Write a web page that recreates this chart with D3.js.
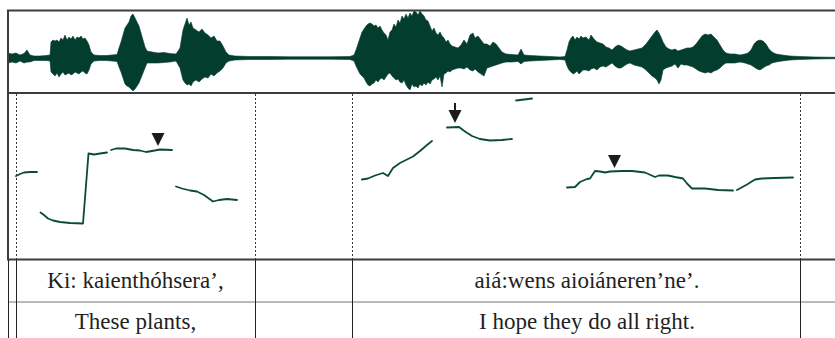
<!DOCTYPE html>
<html><head><meta charset="utf-8">
<script src="https://cdn.jsdelivr.net/npm/d3@7"></script>
<style>body{margin:0;background:#fff}svg{display:block}</style>
</head><body><svg id="c" width="835" height="338"></svg>
<script>
// ---- waveform envelope (time in ms, amplitude in % of full scale) ----
const waveTime = [0,16,32,48,64,76,88,104,128,152,168,
172,180,188,196,204,212,220,228,236,244,252,260,268,276,284,292,300,308,316,324,332,
344,368,392,416,436,
444,452,460,468,476,484,492,500,508,516,524,532,540,548,556,
576,600,624,648,672,
688,700,708,716,724,732,740,752,764,776,788,800,812,824,836,848,860,872,884,
908,968,1048,1128,1208,1288,1368,1384,
1392,1400,1408,1416,1424,1432,1440,1448,1456,1464,1472,1480,1488,1496,1504,1512,1520,1528,1536,1544,1552,1560,1568,1576,1584,1592,1600,1608,1616,1624,1632,1640,1648,1656,1664,1672,1680,1688,1696,1704,1712,1720,1728,1736,1744,1752,1760,1768,1776,1788,1800,
1812,1824,1836,1848,1860,1868,1880,1892,1904,1916,1928,1940,1952,1964,1976,1992,2016,2040,2052,2064,2088,2128,2168,2208,2228,
2236,2244,2252,2260,2268,2276,2284,2292,2300,2312,2324,2332,2344,2356,2368,2380,2392,2404,2416,2428,2440,2452,2464,2476,2488,2504,2520,2536,2552,2564,2576,2588,2596,2604,2612,2620,2632,2644,2656,2668,2680,2692,2704,2716,2728,2740,2752,2764,2776,2788,2800,2812,2824,2836,2848,2860,2872,2888,2908,2928,2948,2960,2972,2984,2996,3008,3020,3032,3044,3056,3072,3096,3128,3168,3228,3308];
const waveTop = [10,8,10,6,9,16,6,4,4,5,6,
32,36,34,36,32,40,36,46,36,42,38,44,36,42,40,44,38,40,34,26,12,
6,5,5,6,7,
20,32,46,60,66,72,84,88,80,72,64,50,36,22,14,
12,10,11,9,8,
20,56,68,80,66,72,60,56,52,58,50,46,40,44,34,34,24,12,6,
4,3,3,2.4,2.4,2.4,3,6,
16,28,40,52,58,64,68,70,68,64,66,60,64,56,50,46,36,52,56,68,62,76,70,84,78,88,80,90,84,94,92,86,94,88,84,76,74,64,54,60,50,46,52,44,40,32,36,28,24,22,20,
26,36,28,46,50,40,44,36,28,28,24,32,28,20,12,8,7,6,18,6,5,4,3,2,3,
16,32,40,44,36,42,38,44,40,42,36,46,38,32,30,28,22,20,16,22,26,24,20,16,14,16,18,20,28,36,44,52,56,50,42,32,22,18,16,18,14,16,18,20,20,22,28,36,44,48,46,48,42,36,26,16,10,8,8,6,8,10,16,28,34,36,34,28,18,12,8,6,4,3,2,1.4];
const waveBot = [-10,-8,-10,-6,-10,-8,-8,-5,-5,-5,-6,
-28,-32,-36,-30,-38,-32,-28,-34,-32,-30,-34,-32,-28,-30,-32,-28,-26,-30,-32,-24,-12,
-6,-5,-5,-6,-7,
-18,-28,-40,-52,-56,-58,-62,-66,-62,-56,-50,-40,-30,-20,-10,
-10,-10,-9,-8,-6,
-20,-44,-50,-54,-52,-56,-48,-44,-48,-42,-38,-40,-32,-36,-30,-26,-20,-10,-6,
-4,-3,-3,-2.4,-2.4,-2.4,-3,-6,
-16,-24,-32,-36,-40,-48,-54,-56,-52,-50,-44,-48,-42,-40,-44,-38,-32,-30,-36,-40,-44,-42,-48,-50,-44,-54,-60,-64,-52,-58,-56,-60,-52,-56,-50,-54,-48,-52,-44,-42,-38,-44,-36,-58,-32,-30,-26,-28,-24,-22,-20,
-20,-22,-18,-24,-26,-22,-28,-32,-36,-20,-18,-16,-14,-12,-10,-8,-8,-7,-12,-7,-6,-5,-4,-3,-4,
-16,-24,-28,-32,-30,-26,-32,-28,-24,-24,-26,-22,-20,-24,-18,-16,-18,-14,-10,-16,-20,-20,-16,-12,-10,-14,-16,-18,-24,-30,-36,-40,-44,-52,-44,-24,-20,-18,-16,-12,-20,-12,-14,-14,-16,-18,-22,-26,-28,-30,-28,-30,-26,-24,-20,-14,-10,-10,-10,-8,-10,-12,-14,-18,-22,-24,-20,-16,-14,-10,-8,-6,-4,-3,-2,-1.4];

// ---- pitch track segments (time ms, F0 Hz) ----
const pitchTimes = [
  [32,48,64,88,116],
  [130,144,160,180,208,248,300,322,344,368,396],
  [412,432,468,500,528,552,576,608,656],
  [672,696,728,756,784,820,844,876,916],
  [1416,1440,1468,1500,1520,1540,1568,1596,1620,1648,1676,1696],
  [1756,1804,1828,1856,1888,1928,1976,2016],
  [2032,2064,2096],
  [2236,2268,2288,2316,2328,2348,2368,2388,2408,2456,2496,2548,2588,2604,2640,2668,2700,2716,2736,2788,2840,2900],
  [2916,2956,2988,3016,3068,3140]
];
const pitchHz = [
  [236,240,243,244,244],
  [163,158,151,147,144,142,141,281,279,281,283],
  [288,291,291,288,287,284,286,289,288],
  [215,211,207,205,198,185,188,190,188],
  [229,231,237,242,236,252,262,269,275,286,298,306],
  [333,334,325,316,310,307,308,310],
  [387,389,391],
  [213,214,224,230,231,246,245,243,245,246,246,243,234,237,237,234,231,221,211,211,208,207],
  [208,219,229,231,232,233]
];

// ---- annotations ----
const boundaries = [31, 988, 1375, 3168];
const accentTimes = [600, 2426];
const accentHz = [296, 252];
const arrowTimes = [1788];
const arrowHz = [342];

// ---- text tiers ----
const tierMohawk = ["Ki: kaienthóhsera’,", "", "aiá:wens aioiáneren’ne’."];
const tierEnglish = ["These plants,", "", "I hope they do all right."];
const tierCenters = [510, 1180, 2316];

const svg = d3.select("#c");
const W = 835;
const x = d3.scaleLinear().domain([0, 3308]).range([8, 835]);
const amp = d3.scaleLinear().domain([-100, 100]).range([108, 8]);
const hz = d3.scaleLinear().domain([70, 400]).range([259, 94]);

const waveColor = "#033d2e", pitchColor = "#0b4a3b";

// clip for waveform panel
svg.append("clipPath").attr("id","wclip").append("rect")
  .attr("x", 9).attr("y", 11).attr("width", W).attr("height", 82);

const waveData = waveTime.map((t,i)=>({t, top: waveTop[i], bot: waveBot[i]}));
svg.append("path").datum(waveData)
  .attr("clip-path","url(#wclip)")
  .attr("fill", waveColor).attr("stroke", waveColor).attr("stroke-width", 0.6)
  .attr("d", d3.area().x(d=>x(d.t)).y0(d=>amp(d.bot)).y1(d=>amp(d.top)));

// dotted boundaries in pitch panel
svg.selectAll("line.bd").data(boundaries).join("line")
  .attr("class","bd")
  .attr("x1", d=>Math.round(x(d))+0.5).attr("x2", d=>Math.round(x(d))+0.5)
  .attr("y1", 94).attr("y2", 259)
  .attr("stroke", "#333").attr("stroke-width", 1).attr("stroke-dasharray", "2,2");

// pitch segments
const line = d3.line().x(d=>x(d[0])).y(d=>hz(d[1]));
svg.selectAll("path.pitch").data(pitchTimes.map((ts,i)=>ts.map((t,j)=>[t, pitchHz[i][j]])))
  .join("path").attr("class","pitch")
  .attr("fill","none").attr("stroke", pitchColor).attr("stroke-width", 1.8)
  .attr("stroke-linejoin","round").attr("stroke-linecap","round")
  .attr("d", line);

// panel frames
const frame = svg.append("g").attr("stroke", "#3c3c3c").attr("stroke-width", 2);
frame.append("line").attr("x1", 7).attr("x2", W).attr("y1", 10.5).attr("y2", 10.5);
frame.append("line").attr("x1", 7).attr("x2", W).attr("y1", 93).attr("y2", 93);
frame.append("line").attr("x1", 7).attr("x2", W).attr("y1", 259.5).attr("y2", 259.5);
frame.append("line").attr("x1", 8).attr("x2", 8).attr("y1", 10).attr("y2", 260);

// accent markers (▼)
accentTimes.forEach((t,i)=>{
  const cx = x(t), ty = hz(accentHz[i]);
  svg.append("path").attr("fill","#1c1c1c")
    .attr("d", `M${cx-6.5},${ty-13}L${cx+6.5},${ty-13}L${cx},${ty}Z`);
});
// arrows (↓)
arrowTimes.forEach((t,i)=>{
  const cx = x(t), ty = hz(arrowHz[i]);
  svg.append("path").attr("fill","#1c1c1c")
    .attr("d", `M${cx-6.5},${ty-13}L${cx+6.5},${ty-13}L${cx},${ty}Z`);
  svg.append("line").attr("stroke","#1c1c1c").attr("stroke-width",2)
    .attr("x1",cx).attr("x2",cx).attr("y1",ty-20).attr("y2",ty-12);
});

// table
const tbl = svg.append("g");
tbl.append("line").attr("x1", 8).attr("x2", W).attr("y1", 302).attr("y2", 302)
  .attr("stroke", "#777").attr("stroke-width", 1);
[8].concat(boundaries.map(b=>Math.round(x(b)))).forEach(px=>{
  tbl.append("line").attr("x1", px+0.5).attr("x2", px+0.5).attr("y1", 260).attr("y2", 338)
    .attr("stroke", "#222").attr("stroke-width", 1);
});
const font = "'Liberation Serif','Times New Roman',serif";
[[tierMohawk, 287.5], [tierEnglish, 329]].forEach(([row, by])=>{
  row.forEach((txt,i)=>{
    if(!txt) return;
    tbl.append("text").attr("x", x(tierCenters[i])).attr("y", by)
      .attr("text-anchor","middle").attr("font-family", font).attr("font-size", 23)
      .attr("fill","#231f20").text(txt);
  });
});
</script></body></html>
